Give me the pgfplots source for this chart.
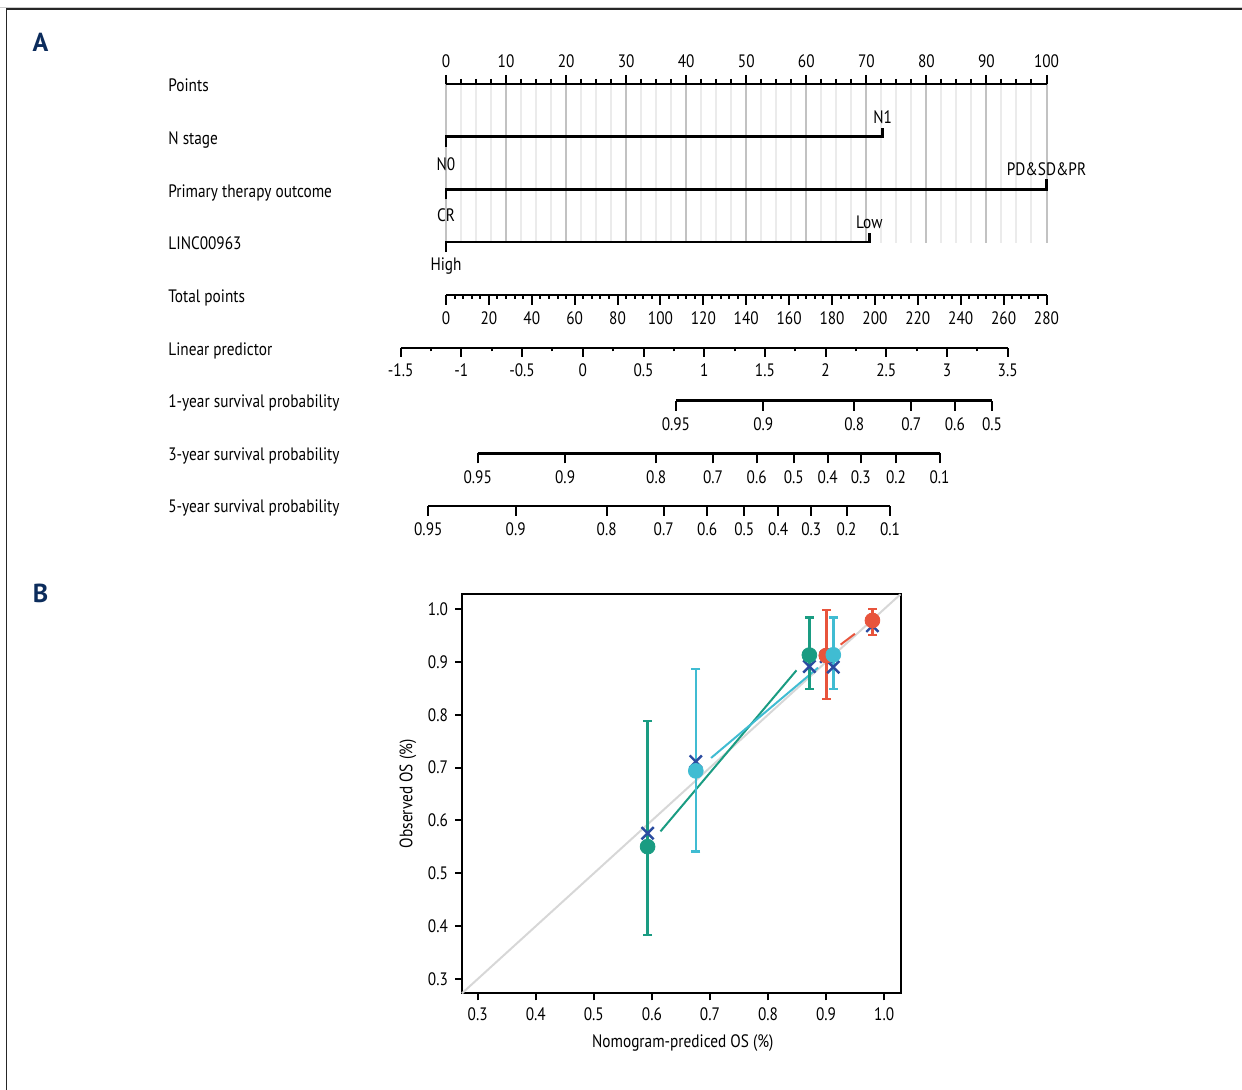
\documentclass[border=0pt]{standalone}
\usepackage{pgfplots}
\usepackage{pgfplotstable}
\pgfplotsset{compat=1.18}
\usepackage{fontspec}
\setmainfont{PT Sans}[FakeStretch=0.85]
\newfontfamily\panelfont{PT Sans}

\definecolor{gr}{RGB}{26,156,130}
\definecolor{lb}{RGB}{64,188,210}
\definecolor{rd}{RGB}{232,84,60}
\definecolor{xb}{RGB}{43,76,160}
\definecolor{navy}{RGB}{12,44,92}
\definecolor{diag}{RGB}{215,215,215}

\newcommand\U{0.5pt}

\pgfplotsset{
  every axis/.append style={font=\fontsize{9}{11}\selectfont},
  /pgf/number format/assume math mode=true,
  nomscale/.style={
    scale only axis, height=1pt, ymin=0, ymax=1,
    axis x line=bottom, axis y line=none,
    x axis line style={-, line width=1.25pt},
    tick align=outside,
    major tick length=5pt, minor tick length=2pt,
    tick style={black, line width=1pt},
    anchor=south west, clip=false,
  },
  cibar/.style={#1, only marks, mark=none,
    error bars/.cd, y dir=both, y explicit, error mark=none,
    error bar style={#1, line width=1.25pt}},
  cicap/.style={#1, only marks, mark=-, mark size=2.3pt,
    mark options={#1, line width=1.2pt}},
  corr/.style={only marks, mark=x, mark size=4.3pt,
    mark options={xb, line width=1.2pt}},
  obs/.style={#1, only marks, mark=*, mark size=3.7pt,
    mark options={draw=#1, fill=#1}},
}

% calibration data: predicted, observed, upper/lower CI offsets, bias-corrected observed
\pgfplotstableread{
x      y      ep     em     yc
0.5926 0.5505 0.2381 0.1672 0.5759
0.8712 0.9130 0.0712 0.0644 0.8914
}\calOne
\pgfplotstableread{
x      y      ep     em     yc
0.6756 0.6939 0.1926 0.1529 0.7115
0.9124 0.9135 0.0707 0.0649 0.8902
}\calThree
\pgfplotstableread{
x      y      ep     em     yc
0.9003 0.9122 0.0865 0.0826 0.9100
0.9798 0.9785 0.0221 0.0277 0.9684
}\calFive

\begin{document}
\begin{tikzpicture}
\path[use as bounding box] (0,0) rectangle (621pt,-545pt);

% ---------- Panel A: nomogram ----------
% Points scale with reference grid and predictor lines
\begin{axis}[
  scale only axis, at={(223pt,-42pt)}, anchor=north west,
  width=300.25pt, height=79.5pt,
  xmin=0, xmax=100, ymin=-3.017, ymax=0,
  axis x line=top, axis y line=none,
  x axis line style={-, line width=1.25pt},
  tick align=outside,
  major tick length=4.5pt, minor tick length=2.5pt,
  tick style={black, line width=1pt},
  xtick={0,10,20,30,40,50,60,70,80,90,100},
  minor x tick num=3,
  xmajorgrids, xminorgrids,
  major grid style={black!24, line width=1pt},
  minor grid style={black!8, line width=1pt},
  clip=false,
]
\addplot[black, line width=1.25pt] coordinates {(0,-1.19) (0,-1) (72.7,-1) (72.7,-0.83)};
\addplot[black, line width=1.25pt] coordinates {(0,-2.19) (0,-2) (100,-2) (100,-1.81)};
\addplot[black, line width=1.25pt] coordinates {(0,-3.19) (0,-3) (70.5,-3) (70.5,-2.83)};
\node[anchor=base] at (axis cs:72.7,-0.746) {N1};
\node[anchor=base] at (axis cs:0,-1.645) {N0};
\node[anchor=base] at (axis cs:100,-1.727) {PD\&SD\&PR};
\node[anchor=base] at (axis cs:0,-2.613) {CR};
\node[anchor=base] at (axis cs:70.5,-2.738) {Low};
\node[anchor=base] at (axis cs:0,-3.53) {High};
\end{axis}

% Total points
\begin{axis}[nomscale, at={(223pt,-147.5pt)}, width=300.25pt,
  xmin=0, xmax=280,
  xtick={0,20,40,60,80,100,120,140,160,180,200,220,240,260,280},
  minor x tick num=4]
\end{axis}

% Linear predictor
\begin{axis}[nomscale, at={(200.35pt,-174pt)}, width=303.5pt,
  xmin=-1.5, xmax=3.5, major tick length=4.5pt, minor tick length=1.75pt,
  xtick={-1.5,-1,-0.5,0,0.5,1,1.5,2,2.5,3,3.5},
  xticklabels={-1.5,-1,-0.5,0,0.5,1,1.5,2,2.5,3,3.5},
  minor x tick num=1]
\end{axis}

% 1-year survival probability (positions on the linear predictor scale)
\begin{axis}[nomscale, at={(337.95pt,-200.35pt)}, width=158.05pt,
  xmin=0.767, xmax=3.371,
  xtick={0.767,1.487,2.237,2.706,3.065,3.371},
  xticklabels={0.95,0.9,0.8,0.7,0.6,0.5}]
\end{axis}

% 3-year survival probability
\begin{axis}[nomscale, at={(238.85pt,-226.65pt)}, width=230.9pt,
  xmin=-0.866, xmax=2.938,
  xtick={-0.866,-0.146,0.604,1.073,1.432,1.738,2.017,2.290,2.580,2.938},
  xticklabels={0.95,0.9,0.8,0.7,0.6,0.5,0.4,0.3,0.2,0.1}]
\end{axis}

% 5-year survival probability
\begin{axis}[nomscale, at={(214.15pt,-253pt)}, width=230.85pt,
  xmin=-1.273, xmax=2.531,
  xtick={-1.273,-0.553,0.197,0.666,1.025,1.331,1.610,1.883,2.173,2.531},
  xticklabels={0.95,0.9,0.8,0.7,0.6,0.5,0.4,0.3,0.2,0.1}]
\end{axis}

% ---------- Panel B: calibration ----------
\begin{axis}[
  scale only axis, at={(231pt,-496.65pt)}, anchor=south west,
  width=219.5pt, height=199.5pt,
  xmin=0.273, xmax=1.029, ymin=0.273, ymax=1.028,
  axis line style={line width=1pt},
  tick align=outside, tick pos=left,
  major tick length=3.5pt,
  tick style={black, line width=1pt},
  xtick={0.3,0.4,0.5,0.6,0.7,0.8,0.9,1.0},
  xticklabels={0.3,0.4,0.5,0.6,0.7,0.8,0.9,1.0},
  ytick={0.3,0.4,0.5,0.6,0.7,0.8,0.9,1.0},
  yticklabels={0.3,0.4,0.5,0.6,0.7,0.8,0.9,1.0},
  xlabel={Nomogram-prediced OS (\%)},
  ylabel={Observed OS (\%)},
  xlabel style={at={(axis description cs:0.503,-0.125)}, anchor=center},
  ylabel style={at={(axis description cs:-0.123,0.5)}, anchor=center},
  clip=false,
]
\addplot[diag, line width=1pt] coordinates {(0.273,0.273) (1.028,1.028)};
% connecting lines
\addplot[gr, line width=1pt, shorten <=10pt, shorten >=10pt] table[x=x,y=y]{\calOne};
\addplot[lb, line width=1pt, shorten <=10pt, shorten >=10pt] table[x=x,y=y]{\calThree};
\addplot[rd, line width=1pt, shorten <=9pt, shorten >=11pt] table[x=x,y=y]{\calFive};
% confidence intervals
\addplot[cibar=gr] table[x=x,y=y,y error plus=ep,y error minus=em]{\calOne};
\addplot[cicap=gr] table[x=x,y expr=\thisrow{y}+\thisrow{ep}]{\calOne};
\addplot[cicap=gr] table[x=x,y expr=\thisrow{y}-\thisrow{em}]{\calOne};
\addplot[cibar=rd] table[x=x,y=y,y error plus=ep,y error minus=em]{\calFive};
\addplot[cicap=rd] table[x=x,y expr=\thisrow{y}+\thisrow{ep}]{\calFive};
\addplot[cicap=rd] table[x=x,y expr=\thisrow{y}-\thisrow{em}]{\calFive};
\addplot[cibar=lb] table[x=x,y=y,y error plus=ep,y error minus=em]{\calThree};
\addplot[cicap=lb] table[x=x,y expr=\thisrow{y}+\thisrow{ep}]{\calThree};
\addplot[cicap=lb] table[x=x,y expr=\thisrow{y}-\thisrow{em}]{\calThree};
% bias-corrected estimates
\addplot[corr] table[x=x,y=yc]{\calOne};
\addplot[corr] table[x=x,y=yc]{\calFive};
\addplot[corr] table[x=x,y=yc]{\calThree};
% observed
\addplot[obs=gr] table[x=x,y=y]{\calOne};
\addplot[obs=rd] table[x=x,y=y]{\calFive};
\addplot[obs=lb] table[x=x,y=y]{\calThree};
\end{axis}

% ---------- frame, panel letters, row names ----------
\begin{scope}[x=\U, y=-\U]
\draw[black!20, line width=0.5pt] (0,7.3) -- (1242,7.3);
\draw[black!85, line width=0.8pt] (6.5,9.2) -- (1242,9.2);
\draw[black!85, line width=0.8pt] (6.5,8.4) -- (6.5,1090);
\node[text=navy, font=\panelfont\fontsize{13}{15}\selectfont\bfseries] at (40.5,42) {A};
\node[text=navy, font=\panelfont\fontsize{13}{15}\selectfont\bfseries] at (40.5,593) {B};
\begin{scope}[every node/.style={anchor=base west, inner sep=0pt, font=\fontsize{9}{11}\selectfont}]
\node at (168,92) {Points};
\node at (168,145) {N stage};
\node at (168,197.5) {Primary therapy outcome};
\node at (168,250) {LINC00963};
\node at (168,302.5) {Total points};
\node at (168,355.5) {Linear predictor};
\node at (168,408) {1-year survival probability};
\node at (168,460.5) {3-year survival probability};
\node at (168,513) {5-year survival probability};
\end{scope}
\end{scope}
\end{tikzpicture}
\end{document}
